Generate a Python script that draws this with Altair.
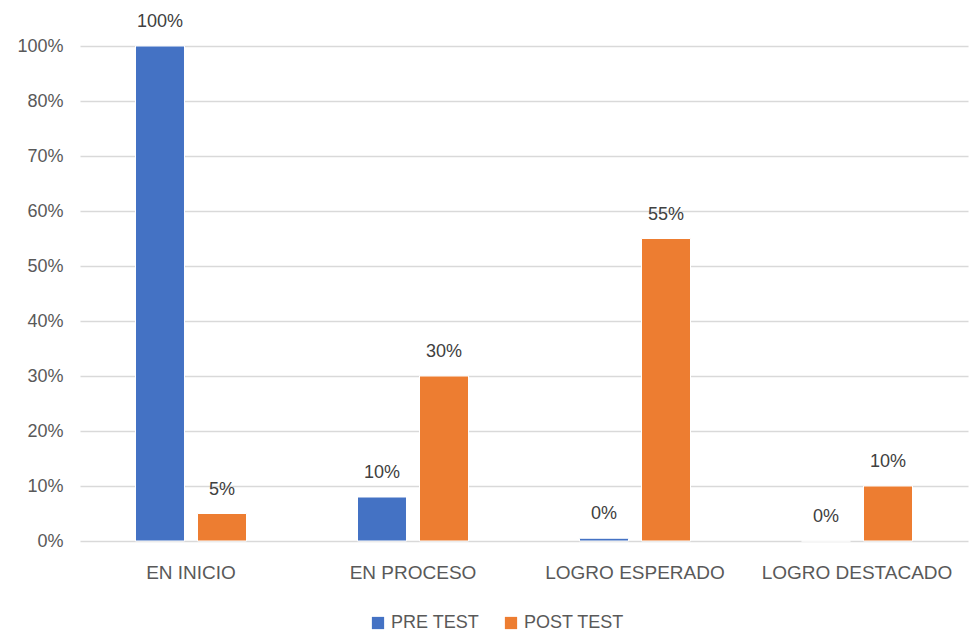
import altair as alt
import pandas as pd

categories = ["EN INICIO", "EN PROCESO", "LOGRO ESPERADO", "LOGRO DESTACADO"]
series = ["PRE TEST", "POST TEST"]
# bar heights as drawn on the reference's axis
pre_values = [90, 8, 0.5, 0]
post_values = [5, 30, 55, 10]
# data labels as printed on the reference
pre_labels = ["100%", "10%", "0%", "0%"]
post_labels = ["5%", "30%", "55%", "10%"]
# y tick values and their printed labels
tick_values = [0, 10, 20, 30, 40, 50, 60, 70, 80, 90]
tick_labels = ["0%", "10%", "20%", "30%", "40%", "50%", "60%", "70%", "80%", "100%"]
colors = ["#4472C4", "#ED7D31"]

rows = []
for c, v, l in zip(categories, pre_values, pre_labels):
    rows.append({"cat": c, "serie": series[0], "value": v, "label": l})
for c, v, l in zip(categories, post_values, post_labels):
    rows.append({"cat": c, "serie": series[1], "value": v, "label": l})
df = pd.DataFrame(rows)

label_expr = " : ".join(
    [f"datum.value == {v} ? '{t}'" for v, t in zip(tick_values, tick_labels)]
) + " : ''"

FONT = "Liberation Sans"

x = alt.X("cat:N", sort=categories, title=None,
          scale=alt.Scale(paddingInner=0.5, paddingOuter=0.25),
          axis=alt.Axis(labelAngle=0, labelFont=FONT, labelFontSize=19,
                        labelColor="#595959", ticks=False, domain=False,
                        labelPadding=22, labelLimit=0))
xo = alt.XOffset("serie:N", sort=series,
                 scale=alt.Scale(paddingInner=0.21, paddingOuter=0))
y = alt.Y("value:Q", title=None,
          scale=alt.Scale(domain=[0, 90], nice=False),
          axis=alt.Axis(values=tick_values, labelExpr=label_expr,
                        labelFont=FONT, labelFontSize=18, labelColor="#595959",
                        ticks=False, domain=False, gridColor="#d9d9d9",
                        gridWidth=1.5, labelPadding=17))

bars = alt.Chart(df).mark_bar(stroke="white", strokeWidth=1).encode(
    x=x, xOffset=xo, y=y,
    color=alt.Color("serie:N", sort=series,
                    scale=alt.Scale(domain=series, range=colors),
                    legend=alt.Legend(title=None, orient="none", direction="horizontal",
                                      legendX=289, legendY=568,
                                      symbolType="square", symbolSize=150,
                                      symbolStrokeWidth=0,
                                      labelFont=FONT, labelFontSize=18,
                                      labelColor="#595959", columnPadding=22)),
)

texts = alt.Chart(df).mark_text(font=FONT, fontSize=18, color="#404040",
                                baseline="alphabetic", dy=-19).encode(
    x=x, xOffset=xo, y=y, text="label:N"
)

chart = (bars + texts).properties(
    width=888, height=495,
    autosize=alt.AutoSizeParams(type="none"),
    padding={"left": 72, "top": 38, "right": 4, "bottom": 92},
).configure_view(stroke=None)

chart.save("out.html", embed_options={"renderer": "svg", "actions": False})
